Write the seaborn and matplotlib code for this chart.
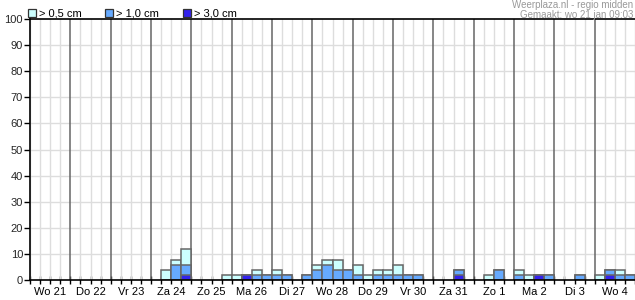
import numpy as np
import pandas as pd
import matplotlib
matplotlib.use("Agg")
import matplotlib.pyplot as plt
import matplotlib.transforms as mtransforms
import seaborn as sns

# --- data -------------------------------------------------------------
days = ["Wo 21", "Do 22", "Vr 23", "Za 24", "Zo 25", "Ma 26", "Di 27",
        "Wo 28", "Do 29", "Vr 30", "Za 31", "Zo 1", "Ma 2", "Di 3", "Wo 4"]
# 4 six-hour periods per day -> 60 bins; values in % of ensemble members
p05 = [0, 0, 0, 0,  0, 0, 0, 0,  0, 0, 0, 0,
       0, 3.9, 7.8, 11.8,  0, 0, 0, 2.0,  2.0, 2.0, 3.9, 2.0,
       3.9, 2.0, 0, 2.0,  5.9, 7.8, 7.8, 3.9,  5.9, 2.0, 3.9, 3.9,
       5.9, 2.0, 2.0, 0,  0, 0, 3.9, 0,  0, 2.0, 3.9, 0,
       3.9, 2.0, 2.0, 2.0,  0, 0, 2.0, 0,  2.0, 3.9, 3.9, 2.0]
p10 = [0, 0, 0, 0,  0, 0, 0, 0,  0, 0, 0, 0,
       0, 0, 5.9, 5.9,  0, 0, 0, 0,  0, 2.0, 2.0, 2.0,
       2.0, 2.0, 0, 2.0,  3.9, 5.9, 3.9, 3.9,  2.0, 0, 2.0, 2.0,
       2.0, 2.0, 2.0, 0,  0, 0, 3.9, 0,  0, 0, 3.9, 0,
       2.0, 0, 2.0, 2.0,  0, 0, 2.0, 0,  0, 3.9, 2.0, 2.0]
p30 = [0, 0, 0, 0,  0, 0, 0, 0,  0, 0, 0, 0,
       0, 0, 0, 2.0,  0, 0, 0, 0,  0, 2.0, 0, 0,
       0, 0, 0, 0,  0, 0, 0, 0,  0, 0, 0, 0,
       0, 0, 0, 0,  0, 0, 2.0, 0,  0, 0, 0, 0,
       0, 0, 2.0, 0,  0, 0, 0, 0,  0, 2.0, 0, 0]
series_labels = ["> 0,5 cm", "> 1,0 cm", "> 3,0 cm"]
colors = ["#ccffff", "#66aaff", "#3322ee"]
source_text = "Weerplaza.nl - regio midden"
made_text = "Gemaakt: wo 21 jan 09:03"

# --- figure -----------------------------------------------------------
sns.set_style("white")
plt.rcParams["font.family"] = ["Liberation Sans", "DejaVu Sans"]
fig = plt.figure(figsize=(6.35, 3.0), dpi=100)
ax = fig.add_axes([30 / 635, 20 / 300, 605 / 635, 261 / 300])

nbins = len(p05)
bins = [f"b{i}" for i in range(nbins)]
for vals, col in zip([p05, p10, p30], colors):
    df = pd.DataFrame({"bin": bins, "val": vals})
    df = df[df["val"] > 0]
    sns.barplot(data=df, x="bin", y="val", order=bins, color=col,
                width=1.0, edgecolor="#666666", linewidth=1.1,
                saturation=1, ax=ax, zorder=3, errorbar=None)

ax.set_xlim(-0.5, nbins - 0.5)
ax.set_ylim(0, 100)
ax.set_xlabel("")
ax.set_ylabel("")

# grid
for i in range(nbins + 1):
    x = i - 0.5
    if i % 4 == 0 and 0 < i < nbins:
        ax.axvline(x, color="#666666", lw=1.1, zorder=2)
    else:
        ax.axvline(x, color="#dddddd", lw=1.0, zorder=1)
for y in range(10, 100, 10):
    ax.axhline(y, color="#dddddd", lw=1.0, zorder=1)

# ticks
ax.set_yticks(range(0, 101, 10))
ax.tick_params(axis="y", length=4, width=1, color="black", labelsize=8,
               pad=1, left=True)
ax.set_xticks([i - 0.5 for i in range(nbins + 1)])
ax.set_xticklabels([])
ax.tick_params(axis="x", which="major", length=6, width=1, color="black",
               bottom=True, direction="inout")

trans = mtransforms.blended_transform_factory(ax.transData, fig.transFigure)
for d, lab in enumerate(days):
    ax.text(d * 4 + 1.5, 1 - 292 / 300, lab, transform=trans, fontsize=8,
            ha="center", va="center", color="black", clip_on=False)

for s in ["left", "bottom", "top"]:
    ax.spines[s].set_visible(True)
    ax.spines[s].set_color("black")
    ax.spines[s].set_linewidth(1.2)
    ax.spines[s].set_zorder(5)
ax.spines["right"].set_visible(False)

# legend (top-left)
lx = [28, 105, 183]
for x0, lab, col in zip(lx, series_labels, colors):
    fig.patches.append(plt.Rectangle((x0 / 635, 1 - 17 / 300), 8 / 635, 7.5 / 300,
                                     transform=fig.transFigure, facecolor=col,
                                     edgecolor="#333333", lw=0.9))
    fig.text((x0 + 11) / 635, 1 - 13 / 300, lab, fontsize=8, va="center",
             ha="left", color="black")

fig.text(633 / 635, 1 - 5.5 / 300, source_text, fontsize=7, ha="right",
         va="center", color="#999999")
fig.text(633 / 635, 1 - 14.5 / 300, made_text, fontsize=7, ha="right",
         va="center", color="#999999")

fig.savefig("out.png", dpi=100)
